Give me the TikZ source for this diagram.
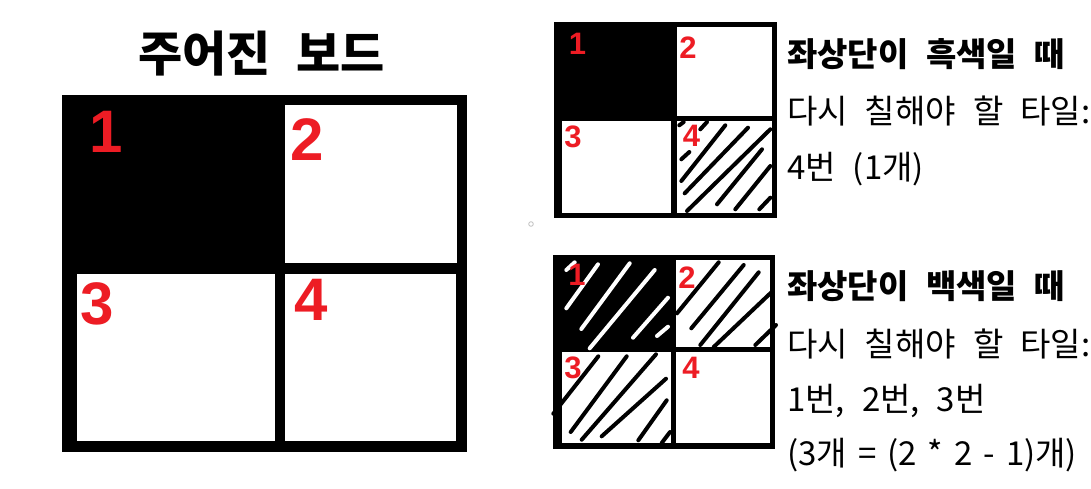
\documentclass[tikz,border=0pt]{standalone}
\usepackage{fontspec}
\newfontfamily\kr{Noto Sans CJK KR}[WordSpace=1.45]
\newfontfamily\krtitle{Noto Sans CJK KR}[WordSpace=2.3]
\newfontfamily\hand{Liberation Sans}

\definecolor{numred}{HTML}{ED1C24}

\begin{document}
\begin{tikzpicture}[x=1pt,y=-1pt,
	hatch/.style={line width=4pt,line cap=round},
	bignum/.style={text=numred,inner sep=0pt,font=\hand\bfseries\fontsize{60}{60}\selectfont},
	smallnum/.style={text=numred,inner sep=0pt,font=\hand\bfseries\fontsize{31}{31}\selectfont},
	headline/.style={anchor=base west,inner sep=0pt,font=\kr\bfseries\fontsize{33}{38}\selectfont},
	bodyline/.style={anchor=base west,inner sep=0pt,font=\kr\fontsize{33}{38}\selectfont}]

\fill[white] (0,0) rectangle (1091,488);
\useasboundingbox (0,0) rectangle (1091,488);

% given board
\node[anchor=base,inner sep=0pt,font=\krtitle\bfseries\fontsize{48}{56}\selectfont] (title) at (261.5,71) {주어진 보드};

\fill (62,95) rectangle (467,452);
\foreach \a/\b/\c/\d in {285/105/457/263, 77/274/275/441, 285/274/456/441} {
	\fill[white] (\a,\b) rectangle (\c,\d);
}
\foreach \n/\x/\y in {1/106/132, 2/307.5/140, 3/97.5/304, 4/311/300} {
	\node[bignum] (g\n) at (\x,\y) {\n};
}

% top left black
\fill (554,22) rectangle (777,218);
\foreach \a/\b/\c/\d in {677/27/772/116, 562/121/671/213, 677/121/772/213} {
	\fill[white] (\a,\b) rectangle (\c,\d);
}
\foreach \a/\b/\c/\d in {679.3/125.3/683.7/122, 700.3/129.3/707/122, 681.3/159.3/689.3/152,
	681.3/181/725.3/125.3, 684.7/193.3/748/127.7, 687/211/770.3/129.3,
	717/204.3/762/149.3, 735.3/209.3/770.3/166, 759.3/209.3/770.3/197.7} {
	\draw[hatch] (\a,\b) -- (\c,\d);
}
\foreach \n/\x/\y in {1/577.5/43.5, 2/688/48, 3/573/137, 4/691.5/136} {
	\node[smallnum] (b\n) at (\x,\y) {\n};
}

% top left white
\fill (553,255) rectangle (775,449);
\foreach \a/\b/\c/\d in {676/260/770/347, 562/352/671/443, 676/352/770/443} {
	\fill[white] (\a,\b) rectangle (\c,\d);
}
\foreach \a/\b/\c/\d in {566.3/270/574.7/262.3, 566.3/308.3/598/264.3, 581.3/329/629.7/263.3,
	589.7/348.3/654.7/270, 633/337.7/668/297.7, 657/336/668/326.7} {
	\draw[hatch,white] (\a,\b) -- (\c,\d);
}
\foreach \a/\b/\c/\d in {677/313.3/718.7/262.3, 691.3/328.3/743.7/265, 700.3/345/758.7/272.3,
	713.7/347/772/291.7, 755.3/345/776/325,
	553.3/413.7/598.3/356.3, 570.7/432/626.7/356.3, 581.7/439.7/656/354.3,
	601.7/436.3/666/378.7, 638.3/440.3/666.7/400.3, 661.7/443/670/432} {
	\draw[hatch] (\a,\b) -- (\c,\d);
}
\foreach \n/\x/\y in {1/577/274.5, 2/687/278, 3/573/368, 4/691/367.5} {
	\node[smallnum] (w\n) at (\x,\y) {\n};
}

\draw[gray!50,line width=0.8pt] (531,224) circle[radius=2.3pt];

% texts
\node[headline] (bhead) at (787,66) {좌상단이 흑색일 때};
\node[bodyline] (bline1) at (787,123.5) {다시 칠해야 할 타일:};
\node[bodyline] (bline2) at (787,179.5) {4번 (1개)};

\node[headline] (whead) at (787,298.5) {좌상단이 백색일 때};
\node[bodyline] (wline1) at (787,356.5) {다시 칠해야 할 타일:};
\node[bodyline] (wline2) at (787,411.5) {1번, 2번, 3번};
\node[bodyline] (wline3) at (787,465) {\spaceskip=11pt\relax(3개 = (2 * 2 - 1)개)};

\end{tikzpicture}
\end{document}
